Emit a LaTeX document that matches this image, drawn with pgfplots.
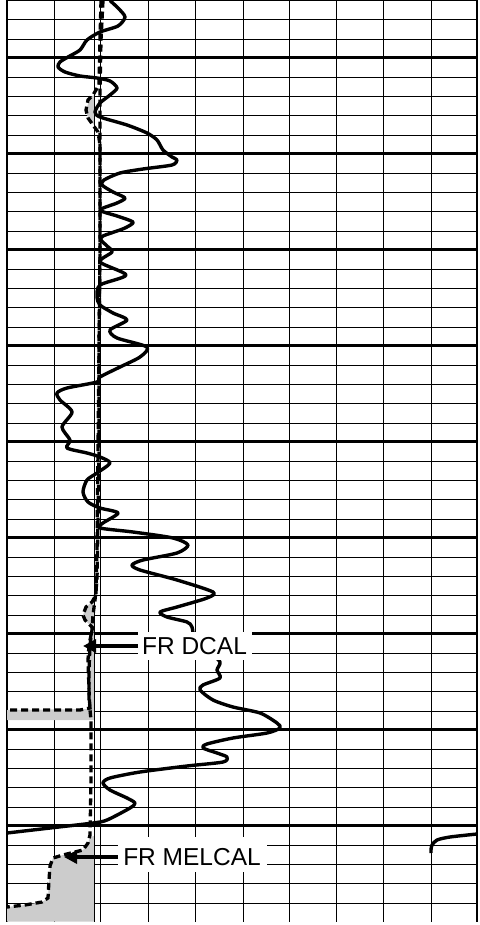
\documentclass[border=0pt]{standalone}
\usepackage{pgfplots}
\pgfplotsset{compat=1.18}
\usepackage{fontspec}
\setmainfont{Liberation Sans}
\usetikzlibrary{arrows.meta}
\begin{document}
\begin{tikzpicture}
\begin{axis}[
  scale only axis, width=470pt, height=921.6pt,
  xmin=7, xmax=477, ymin=0, ymax=921.6, y dir=reverse,
  axis line style={draw=none},
  xtick={7,477}, minor xtick={54,100,148,195,243,289,336,383,431},
  ytick={57.6,153.6,...,826}, minor ytick={0.6,19.8,...,922},
  xticklabels={}, yticklabels={},
  major tick length=0pt, minor tick length=0pt,
  grid=both,
  major grid style={black, line width=2.4pt},
  minor grid style={black, line width=0.9pt},
  clip=false,
]
% shading where the calipers read below bit size
\addplot[draw=none, fill=black!20] coordinates {(94,95)(90,98)(87,107)(87,115)(92,123)(94,125)} -- cycle;
\addplot[draw=none, fill=black!20] coordinates {(94,600)(86,607)(83,615)(85,620)(89,624)(94,627)} -- cycle;
\addplot[draw=none, fill=black!20] coordinates {(94,632)(91,635)(89,645)(88,660)(89,690)(89,709)(7,710)(7,720)(94,720)} -- cycle;
\addplot[draw=none, fill=black!20] coordinates {(94,836)(90,837)(88,843)(83,850)(63,855)(53,858)(50,866)(49,880)(48,898)(42,902)(25,905)(7,907)(7,921.6)(94,921.6)} -- cycle;
% bit size line
\addplot[black, line width=1.8pt] coordinates {(94.5,0.6)(94.5,921.6)};
% DCAL
\addplot[black, line width=3.3pt, dash pattern=on 7pt off 4pt] coordinates {
(103,0.6)(101,40)(100,90)(100,150)(100,250)(99,350)(99,450)(98,520)(97,580)(95,600)(93,615)(92,630)(90,645)(89,670)(89,700)(90,708)(80,710)(7,710)};
% MELCAL
\addplot[black, line width=3.3pt, dash pattern=on 7pt off 4pt] coordinates {
(101,0.6)(100,40)(99,85)(93,95)(88,100)(86,110)(88,118)(93,125)(98,132)(100,145)(100,250)(99,350)(98,450)(97,550)(96,595)(92,602)(86,607)(83,615)(85,620)(89,624)(93,628)(91,635)(89,645)(88,660)(89,690)(90,710)(91,720)(91,780)(90,835)(88,843)(83,850)(63,855)(53,858)(50,866)(49,880)(48,898)(42,902)(25,905)(7,907)};
% resistivity curve
\addplot[black, line width=3.4pt, line join=round, smooth, tension=0.45] coordinates {
(110,0.6)(118,8)(125,17)(118,26)(100,32)(87,40)(80,50)(68,57)(60,62)(58,67)(65,72)(80,76)(97,78)(110,81)(117,88)(110,95)(100,103)(95,112)(100,117)(127,125)(147,133)(157,140)(163,150)(172,157)(177,160)(172,165)(143,169)(120,173)(104,180)(102,185)(113,192)(125,198)(117,203)(100,210)(117,216)(133,222)(127,227)(120,230)(103,236)(101,240)(107,246)(112,252)(100,262)(126,275)(100,285)(97,297)(100,305)(113,313)(127,320)(110,330)(117,338)(147,347)(140,357)(120,367)(100,377)(97,382)(67,388)(57,393)(60,400)(72,412)(62,427)(70,440)(67,448)(87,453)(100,457)(110,463)(97,473)(87,480)(83,492)(88,502)(100,508)(118,513)(103,523)(100,528)(133,532)(173,538)(188,545)(177,553)(143,560)(132,565)(140,570)(177,580)(213,592)(207,598)(177,607)(160,612)(167,617)(187,622)(192,627)(195,640)(210,652)(220,662)(217,670)(220,678)(203,685)(200,690)(213,700)(233,707)(260,713)(277,723)(280,728)(267,733)(233,738)(207,744)(203,748)(217,753)(227,757)(223,762)(187,766)(140,772)(110,778)(103,783)(110,790)(127,798)(135,803)(130,808)(107,820)(93,823)(50,828)(7,833)};
\addplot[black, line width=3.4pt, line join=round, smooth, tension=0.45] coordinates {
(477,834)(450,837)(437,840)(432,845)(431,850)(431,853)};
% labels
\fill[white] (axis cs:138,632) rectangle (axis cs:252,660);
\node[font=\fontsize{24.5}{26}\selectfont, inner sep=0pt, anchor=center] at (axis cs:194.5,646) {FR DCAL};
\draw[black, line width=3.8pt, -{Triangle[length=13pt,width=13pt]}] (axis cs:138,646) -- (axis cs:83,646);
\fill[white] (axis cs:118,837) rectangle (axis cs:267,872);
\node[font=\fontsize{24.5}{26}\selectfont, inner sep=0pt, anchor=center] at (axis cs:192,857.5) {FR MELCAL};
\draw[black, line width=3.8pt, -{Triangle[length=13pt,width=13pt]}] (axis cs:118,857) -- (axis cs:64,857);
\end{axis}
\pgfresetboundingbox
\path ([xshift=-7pt,yshift=-3.4pt]current axis.south west) rectangle ([xshift=2pt]current axis.north east);
\end{tikzpicture}
\end{document}
